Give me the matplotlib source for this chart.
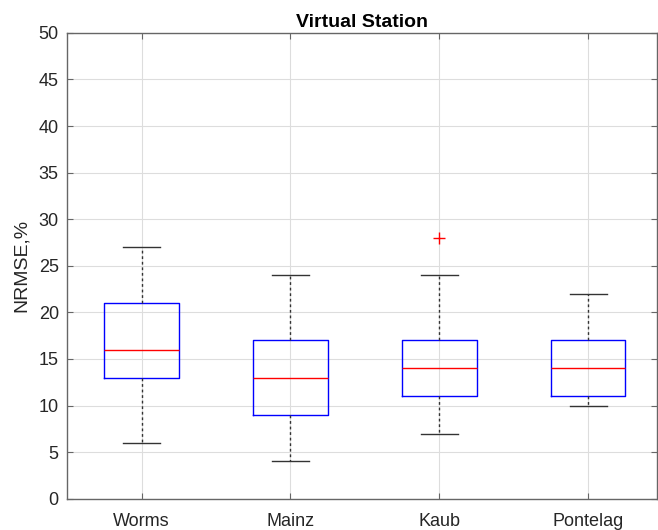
import matplotlib.pyplot as plt

plt.rcParams['font.family'] = ['Liberation Sans', 'DejaVu Sans']

# Box plot summary per station
stations = ["Worms", "Mainz", "Kaub", "Pontelag"]
lower_whisker = [6, 4, 7, 10]
q1 = [13, 9, 11, 11]
median = [16, 13, 14, 14]
q3 = [21, 17, 17, 17]
upper_whisker = [27, 24, 24, 22]
outliers = [[], [], [28], []]

stats = []
for i in range(len(stations)):
    stats.append({
        "label": stations[i],
        "whislo": lower_whisker[i],
        "q1": q1[i],
        "med": median[i],
        "q3": q3[i],
        "whishi": upper_whisker[i],
        "fliers": outliers[i],
    })

fig = plt.figure(figsize=(6.58, 5.30), dpi=100)
ax = fig.add_axes([0.102, 0.059, 0.896, 0.879])

ax.bxp(stats, positions=[1, 2, 3, 4], widths=0.5,
       boxprops=dict(color="blue", linewidth=1.0),
       medianprops=dict(color="red", linewidth=1.0),
       whiskerprops=dict(color="#333333", linestyle=(0, (2, 2)), linewidth=1.0),
       capprops=dict(color="#333333", linewidth=1.0),
       flierprops=dict(marker="+", markeredgecolor="red", markersize=9, linestyle="none"),
       capwidths=0.25)

ax.set_ylim(0, 50)
ax.set_xlim(0.5, 4.46)
ax.set_yticks(range(0, 51, 5))
ax.set_xticks([1, 2, 3, 4])
ax.set_xticklabels(stations)
ax.grid(True, color="#dddddd", linewidth=0.8)
ax.set_axisbelow(True)
ax.tick_params(direction="in", right=True, top=True, labelsize=13,
               color="#666666", labelcolor="#262626", length=4)
ax.tick_params(axis="x", pad=10)
ax.tick_params(axis="y", pad=6)
for s in ax.spines.values():
    s.set_color("#666666")
    s.set_linewidth(1.0)

ax.set_title("Virtual Station", fontsize=14, fontweight="bold", pad=4)
ax.set_ylabel("NRMSE,%", fontsize=14, color="#262626", labelpad=6)

fig.savefig("out.png", dpi=100)
